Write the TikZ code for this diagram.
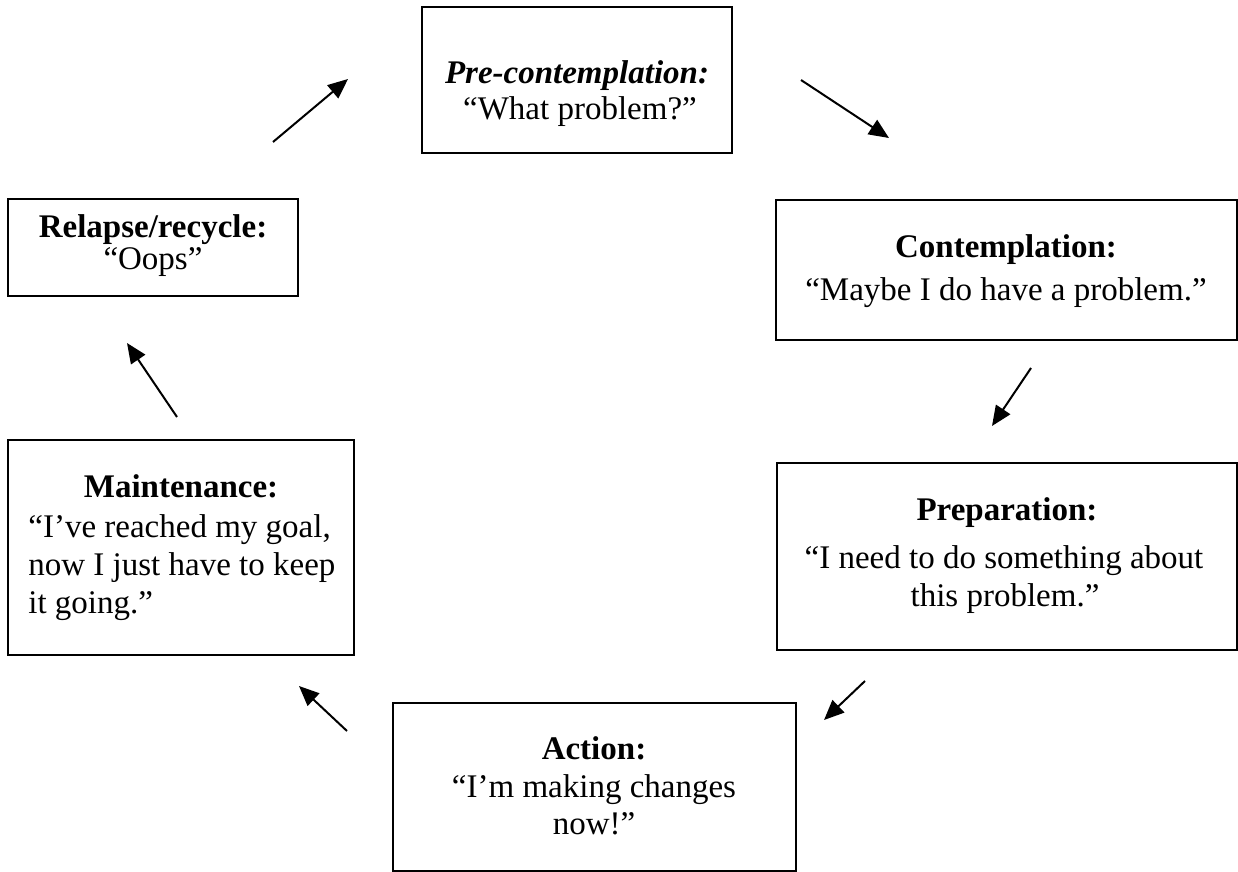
\documentclass[tikz,border=0pt]{standalone}
\usepackage{fontspec}
\setmainfont{Liberation Serif}
\usetikzlibrary{arrows.meta}
\begin{document}
\begin{tikzpicture}[x=0.5pt,y=-0.5pt,
  stage/.style={draw,line width=1pt,inner sep=0pt,outer sep=0pt,rectangle},
  txt/.style={inner sep=0pt,anchor=base,font=\fontsize{16.5pt}{19pt}\selectfont},
  head/.style={txt,font=\fontsize{16.5pt}{19pt}\selectfont\bfseries},
  flow/.style={line width=1pt,-{Triangle[length=10pt,width=8.5pt]}}]
\useasboundingbox (0,0) rectangle (1238,872);

% boxes
\node[stage,minimum width=155pt,minimum height=73pt]   (pre)     at (577,80) {};
\node[stage,minimum width=145pt,minimum height=48.5pt] (relapse) at (153,247.5) {};
\node[stage,minimum width=230.5pt,minimum height=70pt] (contemp) at (1006.5,270) {};
\node[stage,minimum width=173pt,minimum height=107.5pt](maint)   at (181,547.5) {};
\node[stage,minimum width=230pt,minimum height=93.5pt] (prep)    at (1007,556.5) {};
\node[stage,minimum width=201.5pt,minimum height=84pt] (action)  at (594.5,787) {};

% texts
\node[head,font=\fontsize{16.5pt}{19pt}\selectfont\bfseries\itshape] (pre-h) at (577,84) {Pre-contemplation:};
\node[txt] (pre-1) at (580,120) {“What problem?”};

\node[head] (relapse-h) at (153,237) {Relapse/recycle:};
\node[txt]  (relapse-1) at (153,270) {“Oops”};

\node[head] (contemp-h) at (1006,257) {Contemplation:};
\node[txt]  (contemp-1) at (1006,300) {“Maybe I do have a problem.”};

\node[head] (maint-h) at (181,497) {Maintenance:};
\node[txt,anchor=base west] (maint-1) at (28,537) {“I’ve reached my goal,};
\node[txt,anchor=base west] (maint-2) at (28,575) {now I just have to keep};
\node[txt,anchor=base west] (maint-3) at (28,613) {it going.”};

\node[head] (prep-h) at (1007,520) {Preparation:};
\node[txt]  (prep-1) at (1004,568) {“I need to do something about};
\node[txt]  (prep-2) at (1005,606) {this problem.”};

\node[head] (action-h) at (594,759) {Action:};
\node[txt]  (action-1) at (594,797) {“I’m making changes};
\node[txt]  (action-2) at (594,834) {now!”};

% arrow ends
\coordinate (a1s) at (273,142);  \coordinate (a1e) at (348,79);
\coordinate (a2s) at (801,80);   \coordinate (a2e) at (889,138);
\coordinate (a3s) at (1031,368); \coordinate (a3e) at (992,426);
\coordinate (a4s) at (865,681);  \coordinate (a4e) at (824,720);
\coordinate (a5s) at (347,731);  \coordinate (a5e) at (299,686);
\coordinate (a6s) at (177,417);  \coordinate (a6e) at (127,343);

\draw[flow] (a1s) -- (a1e);
\draw[flow] (a2s) -- (a2e);
\draw[flow] (a3s) -- (a3e);
\draw[flow] (a4s) -- (a4e);
\draw[flow] (a5s) -- (a5e);
\draw[flow] (a6s) -- (a6e);
\end{tikzpicture}
\end{document}
